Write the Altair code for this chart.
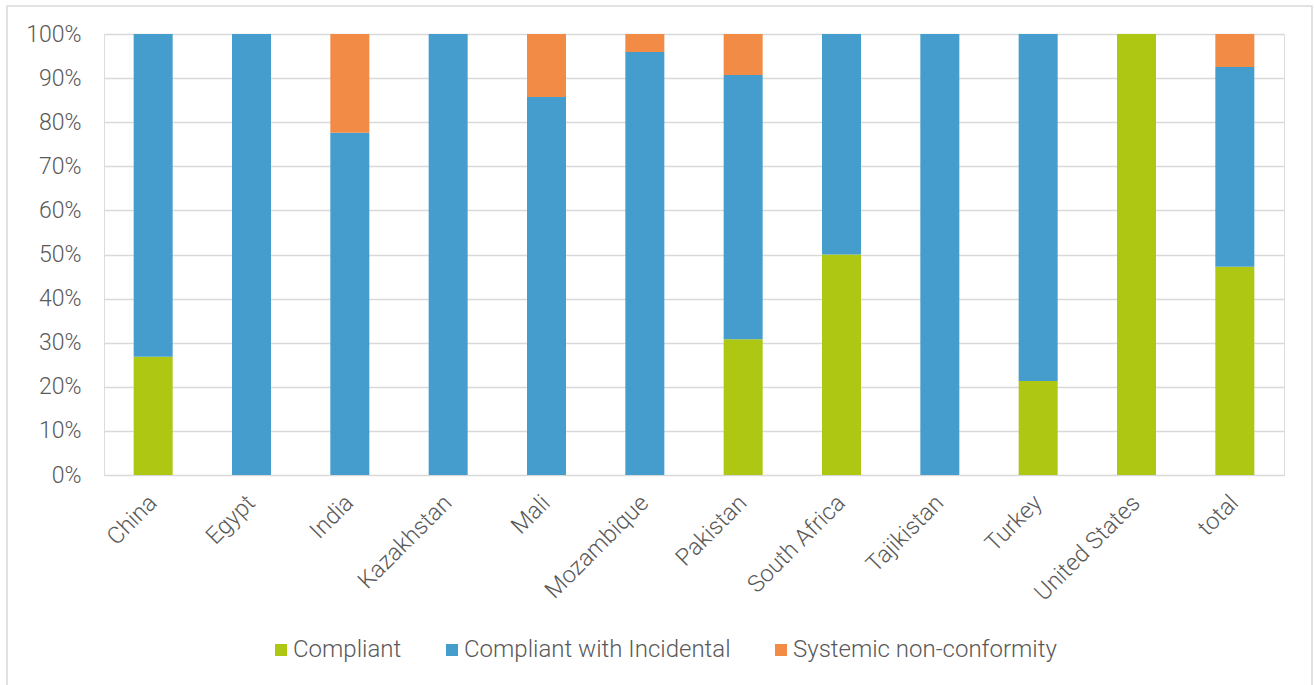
import altair as alt
import pandas as pd

countries = ["China", "Egypt", "India", "Kazakhstan", "Mali", "Mozambique",
             "Pakistan", "South Africa", "Tajikistan", "Turkey", "United States", "total"]
compliant = [26.8, 0, 0, 0, 0, 0, 30.8, 50, 0, 21.3, 100, 47.2]
incidental = [73.2, 100, 77.6, 100, 85.7, 95.9, 59.9, 50, 100, 78.7, 0, 45.3]
systemic = [0, 0, 22.4, 0, 14.3, 4.1, 9.3, 0, 0, 0, 0, 7.5]
series = ["Compliant", "Compliant with Incidental", "Systemic non-conformity"]
colors = ["#ADC713", "#449DCD", "#F18B45"]

rows = []
for i, c in enumerate(countries):
    for k, vals in enumerate([compliant, incidental, systemic]):
        rows.append({"country": c, "series": series[k], "value": vals[i], "order": k})
df = pd.DataFrame(rows)

FONT = "Roboto"
GRAY = "#595959"

bars = alt.Chart(df).mark_bar(size=39).encode(
    x=alt.X("country:N", sort=countries, title=None,
            scale=alt.Scale(paddingInner=0.6, paddingOuter=0.3),
            axis=alt.Axis(labelAngle=-45, labelAlign="right", labelBaseline="middle",
                          labelPadding=24, labelOffset=0, ticks=False, domain=False,
                          grid=False, labelFontSize=23.5, labelColor=GRAY,
                          labelFont=FONT, labelFontWeight=300, labelLimit=0)),
    y=alt.Y("value:Q", stack="zero", title=None,
            scale=alt.Scale(domain=[0, 100], nice=False),
            axis=alt.Axis(values=list(range(0, 101, 10)), labelExpr="datum.value + '%'",
                          ticks=False, domain=False, grid=True, gridColor="#D9D9D9",
                          gridWidth=1.5, labelPadding=23, labelFontSize=23,
                          labelColor=GRAY, labelFont=FONT, labelFontWeight=300)),
    color=alt.Color("series:N", scale=alt.Scale(domain=series, range=colors),
                    legend=alt.Legend(title=None, orient="none", direction="horizontal",
                                      legendX=165, legendY=604, symbolType="square",
                                      symbolSize=144, symbolStrokeWidth=0,
                                      labelFontSize=24, labelColor=GRAY, labelFont=FONT,
                                      labelFontWeight=300, labelOffset=0, labelLimit=0,
                                      columnPadding=38)),
    order=alt.Order("order:Q", sort="ascending"),
)

border = alt.Chart(alt.Data(values=[{}])).mark_rect(
    fillOpacity=0, stroke="#D9D9D9", strokeWidth=1.5
).encode(x=alt.value(-97), x2=alt.value(1208), y=alt.value(-28), y2=alt.value(700))

chart = alt.layer(border, bars).properties(
    width=1180, height=441,
    autosize=alt.AutoSizeParams(type="none"),
    padding={"left": 104, "top": 34, "right": 30, "bottom": 210},
).configure_view(stroke=None).configure(background="white")

chart.save("out.html", embed_options={"renderer": "svg", "actions": False})
